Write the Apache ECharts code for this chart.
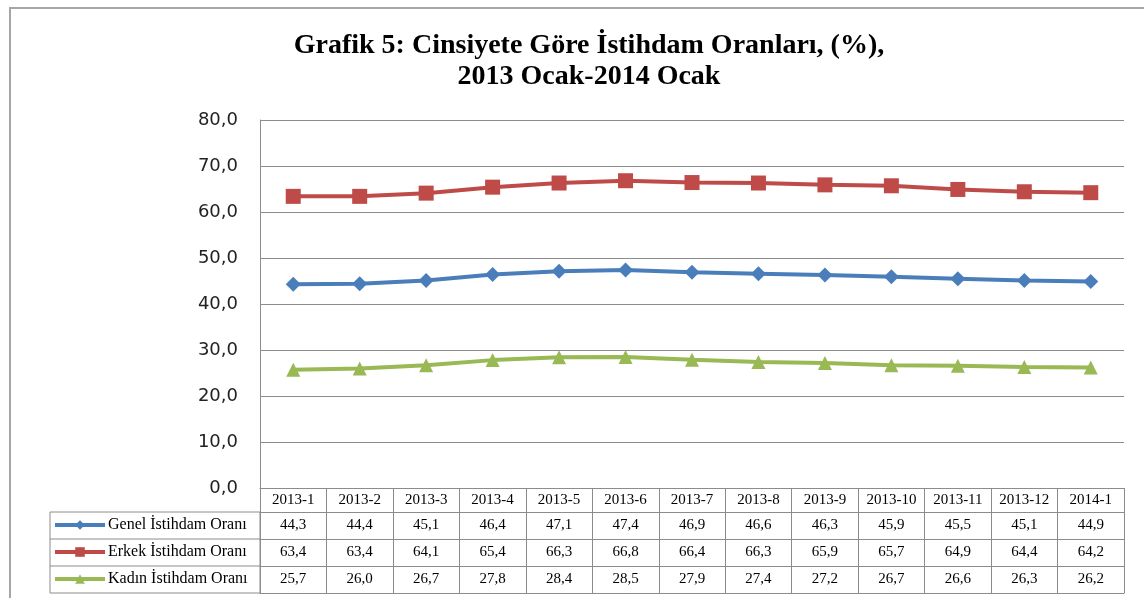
<!DOCTYPE html>
<html><head><meta charset="utf-8">
<script src="https://cdn.jsdelivr.net/npm/echarts@6/dist/echarts.min.js"></script>
<style>html,body{margin:0;padding:0;background:#fff}#c{width:1144px;height:598px}</style>
</head><body><div id="c"></div>
<script>
const categories = ['2013-1','2013-2','2013-3','2013-4','2013-5','2013-6','2013-7','2013-8','2013-9','2013-10','2013-11','2013-12','2014-1'];
const genel = [44.3,44.4,45.1,46.4,47.1,47.4,46.9,46.6,46.3,45.9,45.5,45.1,44.9];
const erkek = [63.4,63.4,64.1,65.4,66.3,66.8,66.4,66.3,65.9,65.7,64.9,64.4,64.2];
const kadin = [25.7,26.0,26.7,27.8,28.4,28.5,27.9,27.4,27.2,26.7,26.6,26.3,26.2];
const seriesNames = ['Genel İstihdam Oranı','Erkek İstihdam Oranı','Kadın İstihdam Oranı'];
const yTicks = [0,10,20,30,40,50,60,70,80];

const L = 260, R = 1124, T = 120, B = 488;
const headerH = 24, rowH = 27;
const gridColor = '#8c8c8c';
const serif = '"Liberation Serif","DejaVu Serif",serif';
const fmt = v => v.toFixed(1).replace('.', ',');
const colors = ['#4A7EBB','#BE4B48','#98B954'];

const chart = echarts.init(document.getElementById('c'), null, {renderer:'canvas'});

function tableAxis(offset, labels, tickLen, margin) {
  return {
    type:'category', gridIndex:0, position:'bottom', offset:offset,
    data: categories, boundaryGap:true,
    axisLine:{show:true, lineStyle:{color:gridColor, width:1}},
    axisTick:{show: tickLen>0, length:tickLen, interval:0, lineStyle:{color:gridColor, width:1}},
    axisLabel:{show: !!labels, interval:0, margin:margin, fontFamily:serif, fontSize:15, color:'#000',
      formatter:(v, i) => labels ? labels[i] : ''},
    splitLine:{show:false}
  };
}

const legendTop = i => B + headerH + i*rowH + 1;

const option = {
  backgroundColor:'#fff',
  animation:false,
  title:{
    text:'Grafik 5: Cinsiyete Göre İstihdam Oranları, (%),\n2013 Ocak-2014 Ocak',
    left:584, top:25, textAlign:'center',
    textStyle:{fontFamily:serif, fontWeight:'bold', fontSize:28, lineHeight:31, color:'#000'}
  },
  legend: seriesNames.map((n, i) => ({
    orient:'horizontal', left:48, top:legendTop(i), padding:[4,5],
    itemWidth:50, itemHeight:12, itemGap:0,
    data:[n],
    lineStyle:{width:4},
    textStyle:{fontFamily:serif, fontSize:16, color:'#000', padding:[0,0,0,-2]},
    selectedMode:false
  })),
  grid:{left:L, top:T, width:R-L, height:B-T, containLabel:false},
  xAxis:[
    tableAxis(0, categories, headerH, 5),
    tableAxis(headerH, genel.map(fmt), rowH, 6),
    tableAxis(headerH+rowH, erkek.map(fmt), rowH, 6),
    tableAxis(headerH+2*rowH, kadin.map(fmt), rowH, 6),
    tableAxis(headerH+3*rowH, null, 0, 0)
  ],
  yAxis:{
    type:'value', min:yTicks[0], max:yTicks[yTicks.length-1], interval:10,
    axisLine:{show:true, lineStyle:{color:gridColor}},
    axisTick:{show:false},
    axisLabel:{margin:22, fontFamily:'"DejaVu Sans",sans-serif', fontSize:18, color:'#222', formatter:v=>fmt(v)},
    splitLine:{show:true, lineStyle:{color:gridColor, width:1}}
  },
  series:[
    {name:seriesNames[0], type:'line', data:genel, xAxisIndex:0, symbol:'diamond', symbolSize:15,
     lineStyle:{width:4, color:colors[0]}, itemStyle:{color:colors[0]}},
    {name:seriesNames[1], type:'line', data:erkek, xAxisIndex:0, symbol:'rect', symbolSize:15,
     lineStyle:{width:4, color:colors[1]}, itemStyle:{color:colors[1]}},
    {name:seriesNames[2], type:'line', data:kadin, xAxisIndex:0, symbol:'triangle', symbolSize:14,
     lineStyle:{width:4, color:colors[2]}, itemStyle:{color:colors[2]}}
  ],
  graphic:[
    {type:'rect', shape:{x:50, y:B+headerH, width:L-50, height:3*rowH}, style:{fill:null, stroke:gridColor, lineWidth:1}, silent:true},
    {type:'line', shape:{x1:50, y1:B+headerH+rowH, x2:L, y2:B+headerH+rowH}, style:{stroke:gridColor, lineWidth:1}, silent:true},
    {type:'line', shape:{x1:50, y1:B+headerH+2*rowH, x2:L, y2:B+headerH+2*rowH}, style:{stroke:gridColor, lineWidth:1}, silent:true},
    {type:'polyline', shape:{points:[[10,598],[10,8],[1144,8]]}, style:{fill:null, stroke:'#a6a6a6', lineWidth:2}, silent:true}
  ]
};
chart.setOption(option);
</script></body></html>
